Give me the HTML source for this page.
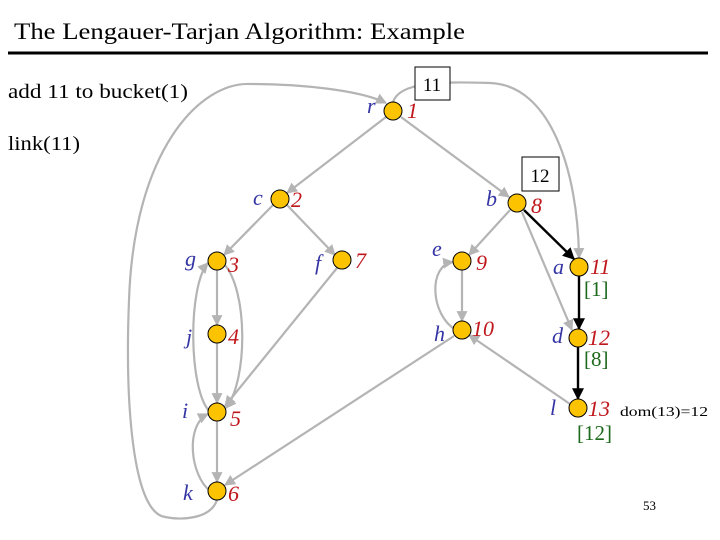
<!DOCTYPE html>
<html><head><meta charset="utf-8"><style>
html,body{margin:0;padding:0;background:#fff;}
svg{display:block;}
.lab{font-family:"Liberation Serif",serif;font-style:italic;fill:#3535a5;font-size:22px;}
.num{font-family:"Liberation Serif",serif;font-style:italic;fill:#c0171d;font-size:22px;}
.grn{font-family:"Liberation Serif",serif;fill:#1d6a1d;font-size:21px;}
.txt{font-family:"Liberation Serif",serif;fill:#000;}
</style></head><body>
<svg width="720" height="540" viewBox="0 0 720 540" xmlns="http://www.w3.org/2000/svg">
<defs>
<marker id="ga" viewBox="0 0 10 10" refX="9" refY="5" markerWidth="5" markerHeight="5" orient="auto"><path d="M0,0 L10,5 L0,10 z" fill="#b4b4b4"/></marker>
<marker id="ba" viewBox="0 0 10 10" refX="9" refY="5" markerWidth="5" markerHeight="5" orient="auto"><path d="M0,0 L10,5 L0,10 z" fill="#000"/></marker>
</defs>
<text x="14" y="39" class="txt" font-size="23" textLength="451" lengthAdjust="spacingAndGlyphs">The Lengauer-Tarjan Algorithm:  Example</text>
<line x1="8" y1="53" x2="708" y2="53" stroke="#000" stroke-width="3"/>
<text x="8" y="98" class="txt" font-size="20" textLength="180" lengthAdjust="spacingAndGlyphs">add 11 to bucket(1)</text>
<text x="8" y="150" class="txt" font-size="20" textLength="72" lengthAdjust="spacingAndGlyphs">link(11)</text>

<g fill="none" stroke="#b4b4b4" stroke-width="2.2">
<line x1="386" y1="117" x2="287" y2="193" marker-end="url(#ga)"/>
<line x1="401" y1="117" x2="509" y2="197" marker-end="url(#ga)"/>
<line x1="273" y1="205" x2="224" y2="255" marker-end="url(#ga)"/>
<line x1="287" y1="205" x2="335" y2="255" marker-end="url(#ga)"/>
<line x1="510" y1="210" x2="469" y2="255" marker-end="url(#ga)"/>
<line x1="522" y1="212" x2="572" y2="330" marker-end="url(#ga)"/>
<line x1="217" y1="270" x2="217" y2="325" marker-end="url(#ga)"/>
<line x1="217" y1="343" x2="217" y2="403" marker-end="url(#ga)"/>
<line x1="217" y1="421" x2="217" y2="482" marker-end="url(#ga)"/>
<line x1="337" y1="268" x2="225" y2="406" marker-end="url(#ga)"/>
<line x1="462" y1="270" x2="462" y2="321" marker-end="url(#ga)"/>
<line x1="454" y1="336" x2="225" y2="485" marker-end="url(#ga)"/>
<line x1="570" y1="404" x2="469" y2="335" marker-end="url(#ga)"/>
<path d="M210,412 C188,390 188,285 208,263" marker-end="url(#ga)"/>
<path d="M224,264 C248,290 248,380 226,408" marker-end="url(#ga)"/>
<path d="M210,491 C190,475 185,425 208,414" marker-end="url(#ga)"/>
<path d="M456,330 C430,315 428,265 453,262" marker-end="url(#ga)"/>
<path d="M217,500 C210,520 180,520 165,517 C132,512 125,400 129,300 C134,150 200,82 250,84 C300,84 360,90 386,103" marker-end="url(#ga)"/>
<path d="M393,102 C400,80 450,82 490,83 C550,85 578,170 579,258" marker-end="url(#ga)"/>
</g>
<g stroke="#000" stroke-width="2.4" fill="none">
<line x1="524" y1="210" x2="574" y2="259" marker-end="url(#ba)"/>
<line x1="579" y1="276" x2="579" y2="329" marker-end="url(#ba)"/>
<line x1="578" y1="347" x2="578" y2="399" marker-end="url(#ba)"/>
</g>

<rect x="415" y="67" width="35" height="33" fill="#fff" stroke="#000" stroke-width="1"/>
<text x="432" y="91" class="txt" font-size="19" text-anchor="middle">11</text>
<rect x="522" y="157" width="37" height="34" fill="#fff" stroke="#000" stroke-width="1"/>
<text x="540" y="182" class="txt" font-size="19" text-anchor="middle">12</text>

<g fill="#fcc400" stroke="#000" stroke-width="1">
<circle cx="393" cy="111" r="9"/>
<circle cx="280" cy="199" r="9"/>
<circle cx="517" cy="203" r="9"/>
<circle cx="217" cy="261" r="9"/>
<circle cx="342" cy="260" r="9"/>
<circle cx="462" cy="261" r="9"/>
<circle cx="579" cy="267" r="9"/>
<circle cx="217" cy="334" r="9"/>
<circle cx="462" cy="330" r="9"/>
<circle cx="578" cy="338" r="9"/>
<circle cx="217" cy="412" r="9"/>
<circle cx="578" cy="408" r="9"/>
<circle cx="217" cy="491" r="9"/>
</g>

<text x="367" y="113" class="lab">r</text><text x="407" y="118" class="num">1</text>
<text x="253" y="205" class="lab">c</text><text x="291" y="207" class="num">2</text>
<text x="486" y="206" class="lab">b</text><text x="531" y="213" class="num">8</text>
<text x="185" y="266" class="lab">g</text><text x="228" y="272" class="num">3</text>
<text x="315" y="270" class="lab">f</text><text x="355" y="268" class="num">7</text>
<text x="432" y="256" class="lab">e</text><text x="476" y="270" class="num">9</text>
<text x="553" y="274" class="lab">a</text><text x="590" y="274" class="num">11</text>
<text x="186" y="344" class="lab">j</text><text x="228" y="344" class="num">4</text>
<text x="434" y="341" class="lab">h</text><text x="472" y="336" class="num">10</text>
<text x="552" y="343" class="lab">d</text><text x="588" y="345" class="num">12</text>
<text x="182" y="418" class="lab">i</text><text x="230" y="426" class="num">5</text>
<text x="550" y="415" class="lab">l</text><text x="588" y="416" class="num">13</text>
<text x="183" y="500" class="lab">k</text><text x="228" y="501" class="num">6</text>

<text x="584" y="296" class="grn">[1]</text>
<text x="584" y="366" class="grn">[8]</text>
<text x="577" y="440" class="grn">[12]</text>
<text x="620" y="416" class="txt" font-size="14" textLength="88" lengthAdjust="spacingAndGlyphs">dom(13)=12</text>
<text x="643" y="510" class="txt" font-size="13">53</text>
</svg>
</body></html>
